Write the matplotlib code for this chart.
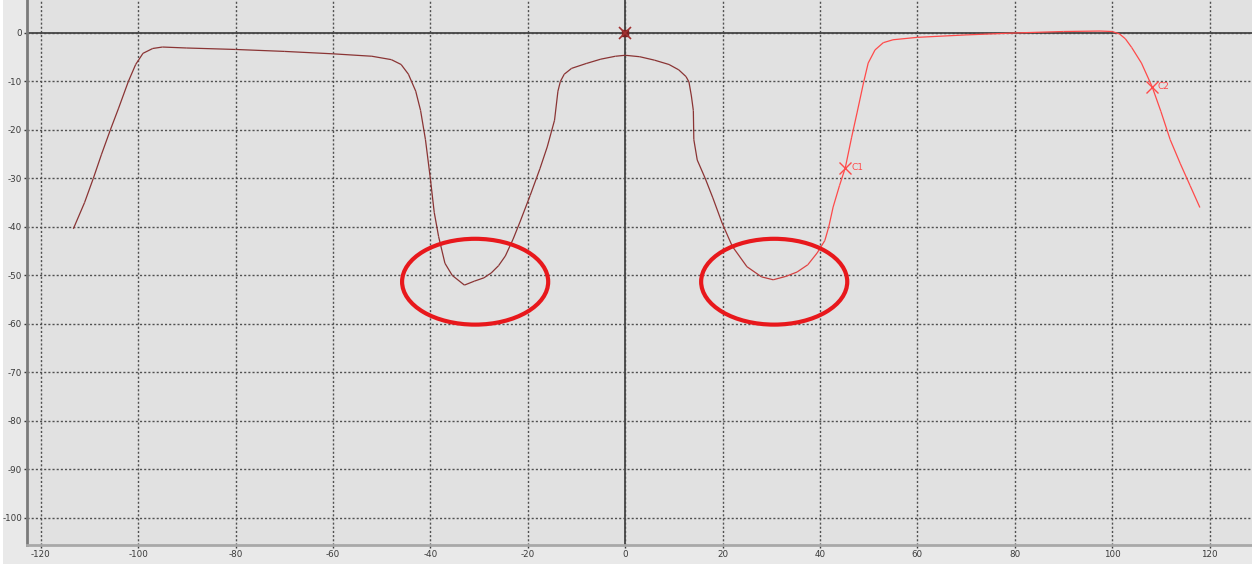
import numpy as np
import matplotlib.pyplot as plt
from matplotlib.collections import LineCollection
from matplotlib.patches import Ellipse, Rectangle
from matplotlib.colors import to_rgb

# response trace (x in units, y in dB)
curve_x = [-113.3, -111, -109.2, -107.5, -105.7, -104, -102, -100.5, -99, -97, -95,
           -90, -80, -70, -60, -52, -48, -46, -44.5, -43, -42, -41, -40, -39.2,
           -38.3, -37, -35.5, -33, -31, -29, -27.5, -26, -24.6, -23, -21.6, -19.5,
           -17.5, -16, -14.5, -13.8, -13.3, -12.5, -11, -8, -5, -2, 0, 3, 6, 9, 11,
           12.5, 13.1, 13.6, 14, 14.1, 14.8, 16.4, 18, 19.9, 22, 25, 28, 30.4, 33,
           35.3, 37.5, 39.4, 41, 41.8, 42.7, 44, 45.2, 46.5, 47.6, 49, 49.9, 51.3,
           53, 55, 60, 70, 80, 90, 97.5, 100, 101.5, 102.7, 104, 106, 108.2,
           110, 111.9, 114, 116, 118]
curve_y = [-40.4, -35, -30, -25, -20, -15.5, -10, -6.5, -4.2, -3.2, -2.9,
           -3.1, -3.4, -3.8, -4.3, -4.8, -5.5, -6.5, -8.5, -12, -16, -22, -30, -37,
           -42, -47.5, -50, -52, -51.2, -50.5, -49.5, -48, -46, -42.5, -39, -33.5,
           -28, -23.5, -18, -12, -10, -8.5, -7.3, -6.3, -5.4, -4.8, -4.6, -4.9, -5.6,
           -6.5, -7.6, -9, -10.1, -13, -16, -22, -26.2, -29.9, -34, -39.2, -44,
           -48.2, -50.3, -50.9, -50.2, -49.3, -47.8, -45.4, -42.8, -40, -35.9, -31.5,
           -27.8, -21.5, -16.5, -10, -6.2, -3.5, -2, -1.4, -0.9, -0.4, 0, 0.3, 0.4,
           0.3, -0.2, -1.2, -3, -6.2, -11.1, -16.2, -22, -27, -31.5, -36]

markers = {"C1": (45.2, -27.8), "C2": (108.2, -11.1)}
ellipse_centers = [(-30.8, -51.3), (30.6, -51.3)]

xticks = list(range(-120, 121, 20))
yticks = list(range(-100, 1, 10))

fig = plt.figure(figsize=(12.52, 5.64), dpi=100, facecolor="#e9e9e9")
# thin white strip down the left edge
fig.patches.append(Rectangle((0, 0), 3 / 1252, 1, transform=fig.transFigure,
                             facecolor="white", edgecolor="none", zorder=0))
ax = fig.add_axes([0.0216, 0.0337, 0.9784, 0.9663])
ax.set_facecolor("#e1e1e1")
ax.set_xlim(-122.8, 128.7)
ax.set_ylim(-105.6, 6.8)

ax.set_xticks(xticks)
ax.set_yticks(yticks)
ax.set_xticklabels([str(v) for v in xticks])
ax.set_yticklabels([str(v) for v in yticks])
ax.tick_params(labelsize=6.3, colors="#3a3a3a", length=2.5, width=1, pad=1)
ax.grid(True, color="#505050", linestyle=(0, (1.5, 1.5)), linewidth=1)
ax.set_axisbelow(True)

for side in ("top", "right"):
    ax.spines[side].set_visible(False)
ax.spines["left"].set_color("#7a7a7a")
ax.spines["left"].set_linewidth(2)
ax.spines["bottom"].set_color("#a8a8a8")
ax.spines["bottom"].set_linewidth(2)

# zero cross-hair
ax.axhline(0, color="#454545", linewidth=1.3, zorder=2)
ax.axvline(0, color="#454545", linewidth=1.3, zorder=2)

# trace: dark red on the left fading to bright red on the right
x = np.array(curve_x)
y = np.array(curve_y)
pts = np.column_stack([x, y]).reshape(-1, 1, 2)
segs = np.concatenate([pts[:-1], pts[1:]], axis=1)
dark = np.array(to_rgb("#8a3434"))
bright = np.array(to_rgb("#ff4a4a"))
mid = (x[:-1] + x[1:]) / 2
t = np.clip((mid - 18) / 25, 0, 1)[:, None]
cols = dark * (1 - t) + bright * t
ax.add_collection(LineCollection(segs, colors=cols, linewidths=0.9, zorder=3))

# reference marker at origin
ax.plot(0, 0, marker="s", ms=4, color="#7a2020", zorder=4)
ax.plot(0, 0, marker="x", ms=8, mew=1.2, color="#a03030", zorder=4)

for name, (mx, my) in markers.items():
    ax.plot(mx, my, marker="x", ms=9, mew=1, color="#ff4a4a", zorder=4)
    ax.text(mx + 1.2, my, name, fontsize=6.5, color="#ff4a4a",
            va="center", ha="left", zorder=4)

for cx, cy in ellipse_centers:
    ax.add_patch(Ellipse((cx, cy), 30, 17.7, fill=False, edgecolor="#e8181c",
                         linewidth=3, zorder=5))

fig.savefig("out.png", dpi=100, facecolor=fig.get_facecolor())
